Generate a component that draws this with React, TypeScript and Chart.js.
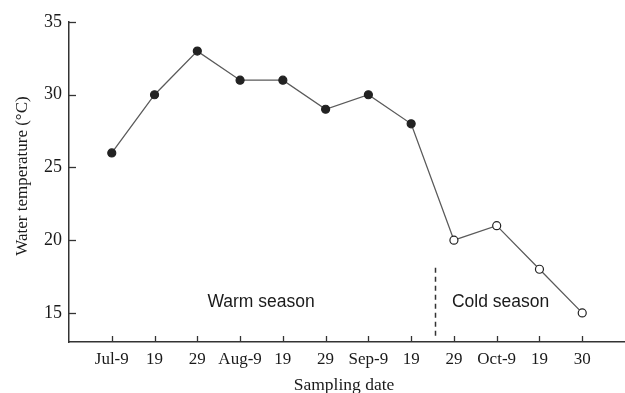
import React, { useEffect, useRef } from "react";
import { Chart, registerables } from "chart.js";

Chart.register(...registerables);

const xLabels = ["Jul-9", "19", "29", "Aug-9", "19", "29", "Sep-9", "19", "29", "Oct-9", "19", "30"];
const temperature = [26, 30, 33, 31, 31, 29, 30, 28, 20, 21, 18, 15];
const season = ["warm", "warm", "warm", "warm", "warm", "warm", "warm", "warm", "cold", "cold", "cold", "cold"];
const yTicks = [15, 20, 25, 30, 35];
const seasonLabels = ["Warm season", "Cold season"];

const SERIF = "'Liberation Serif', 'Times New Roman', serif";
const SANS = "'Liberation Sans', Arial, sans-serif";
const AXIS = "#333";

const decorPlugin = {
  id: "decor",
  afterDatasetsDraw(chart: any) {
    const ctx = chart.ctx;
    const xs = chart.scales.x;
    const ys = chart.scales.y;
    const area = chart.chartArea;
    ctx.save();
    // inward tick marks
    ctx.strokeStyle = AXIS;
    ctx.lineWidth = 1.3;
    xs.ticks.forEach((t: any) => {
      const px = Math.round(xs.getPixelForValue(t.value)) + 0.5;
      ctx.beginPath();
      ctx.moveTo(px, area.bottom);
      ctx.lineTo(px, area.bottom - 6);
      ctx.stroke();
    });
    ys.ticks.forEach((t: any) => {
      const py = Math.round(ys.getPixelForValue(t.value)) + 0.5;
      ctx.beginPath();
      ctx.moveTo(area.left, py);
      ctx.lineTo(area.left + 7, py);
      ctx.stroke();
    });
    // season divider
    ctx.setLineDash([5, 4]);
    ctx.lineWidth = 1.5;
    const dx = Math.round(xs.getPixelForValue(7.55)) + 0.5;
    ctx.beginPath();
    ctx.moveTo(dx, ys.getPixelForValue(18.1));
    ctx.lineTo(dx, ys.getPixelForValue(13.4));
    ctx.stroke();
    ctx.setLineDash([]);
    // season labels
    ctx.fillStyle = "#1a1a1a";
    ctx.font = `17.5px ${SANS}`;
    ctx.textAlign = "center";
    ctx.textBaseline = "middle";
    ctx.fillText(seasonLabels[0], xs.getPixelForValue(3.49), ys.getPixelForValue(15.76));
    ctx.fillText(seasonLabels[1], xs.getPixelForValue(9.09), ys.getPixelForValue(15.76));
    // axis titles
    ctx.font = `17.5px ${SERIF}`;
    ctx.textBaseline = "alphabetic";
    ctx.fillText("Sampling date", 344, 390);
    ctx.save();
    ctx.translate(23, 176);
    ctx.rotate(-Math.PI / 2);
    ctx.font = `17px ${SERIF}`;
    ctx.textBaseline = "middle";
    ctx.fillText("Water temperature (\u00B0C)", 0, 0);
    ctx.restore();
    ctx.restore();
  },
};

export default function App() {
  const ref = useRef<HTMLCanvasElement>(null);
  useEffect(() => {
    document.body.style.margin = "0";
    const points = temperature.map((v, i) => ({ x: i, y: v }));
    const chart = new Chart(ref.current!, {
      type: "line",
      data: {
        datasets: [
          {
            data: points,
            borderColor: "#5a5a5a",
            borderWidth: 1.3,
            pointRadius: 4,
            pointBorderWidth: 1.2,
            pointBorderColor: "#222",
            pointBackgroundColor: season.map((s) => (s === "warm" ? "#222" : "#fff")),
            tension: 0,
          },
        ],
      },
      options: {
        animation: false,
        responsive: false,
        maintainAspectRatio: false,
        layout: { autoPadding: false, padding: { top: 22, left: 0, right: 0, bottom: 0 } },
        plugins: { legend: { display: false }, tooltip: { enabled: false } },
        scales: {
          x: {
            type: "linear",
            min: -1,
            max: 12,
            grid: { display: false, drawTicks: false },
            border: { display: true, color: AXIS, width: 1.5 },
            afterBuildTicks: (s: any) => {
              s.ticks = xLabels.map((_, i) => ({ value: i }));
            },
            afterFit: (s: any) => {
              s.height = 51;
              s.paddingLeft = 0;
              s.paddingRight = 0;
            },
            ticks: {
              autoSkip: false,
              maxRotation: 0,
              padding: 7,
              color: "#1a1a1a",
              font: { family: SERIF, size: 17 },
              callback: (v: any) => xLabels[v] ?? "",
            },
          },
          y: {
            type: "linear",
            min: 13,
            max: 35,
            grid: { display: false, drawTicks: false },
            border: { display: true, color: AXIS, width: 1.5 },
            afterBuildTicks: (s: any) => {
              s.ticks = yTicks.map((v) => ({ value: v }));
            },
            afterFit: (s: any) => {
              s.width = 69;
              s.paddingTop = 0;
              s.paddingBottom = 0;
            },
            ticks: {
              padding: 7,
              color: "#1a1a1a",
              font: { family: SERIF, size: 18 },
            },
          },
        },
      },
      plugins: [decorPlugin],
    });
    return () => chart.destroy();
  }, []);
  return (
    <div style={{ position: "absolute", left: 0, top: 0, width: 625, height: 393 }}>
      <canvas ref={ref} width={625} height={393} />
    </div>
  );
}
